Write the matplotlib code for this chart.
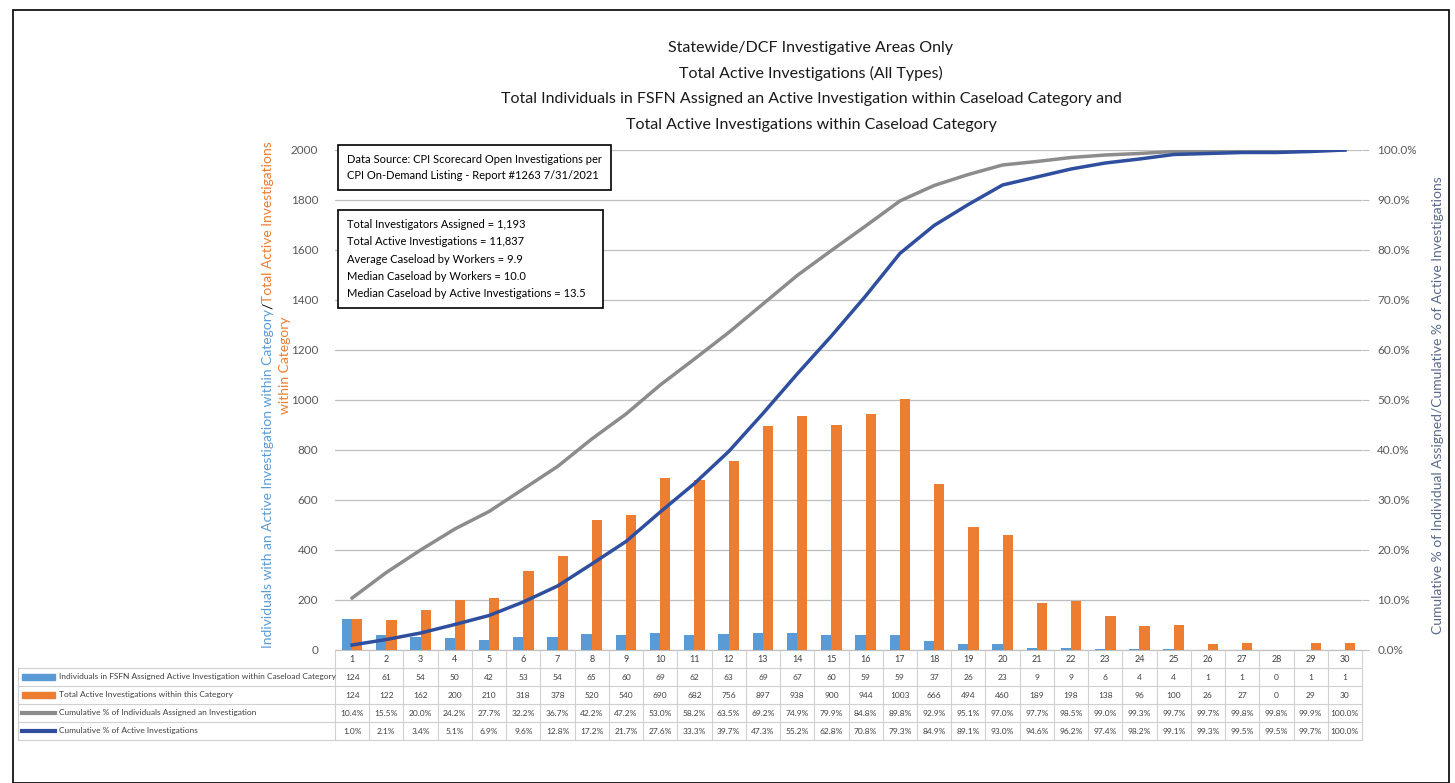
import numpy as np
import matplotlib
matplotlib.use("Agg")
import matplotlib.pyplot as plt
from matplotlib.patches import Rectangle
from matplotlib.lines import Line2D

plt.rcParams['font.family'] = ['Lato', 'DejaVu Sans']

categories = list(range(1, 31))
individuals = [124, 61, 54, 50, 42, 53, 54, 65, 60, 69, 62, 63, 69, 67, 60,
               59, 59, 37, 26, 23, 9, 9, 6, 4, 4, 1, 1, 0, 1, 1]
active = [124, 122, 162, 200, 210, 318, 378, 520, 540, 690, 682, 756, 897, 938, 900,
          944, 1003, 666, 494, 460, 189, 198, 138, 96, 100, 26, 27, 0, 29, 30]
cum_individuals = [10.4, 15.5, 20.0, 24.2, 27.7, 32.2, 36.7, 42.2, 47.2, 53.0,
                   58.2, 63.5, 69.2, 74.9, 79.9, 84.8, 89.8, 92.9, 95.1, 97.0,
                   97.7, 98.5, 99.0, 99.3, 99.7, 99.7, 99.8, 99.8, 99.9, 100.0]
cum_active = [1.0, 2.1, 3.4, 5.1, 6.9, 9.6, 12.8, 17.2, 21.7, 27.6,
              33.3, 39.7, 47.3, 55.2, 62.8, 70.8, 79.3, 84.9, 89.1, 93.0,
              94.6, 96.2, 97.4, 98.2, 99.1, 99.3, 99.5, 99.5, 99.7, 100.0]

series_names = ["Individuals in FSFN Assigned Active Investigation within Caseload Category",
                "Total Active Investigations within this Category",
                "Cumulative % of Individuals Assigned an Investigation",
                "Cumulative % of Active Investigations"]
titles = ["Statewide/DCF Investigative Areas Only",
          "Total Active Investigations (All Types)",
          "Total Individuals in FSFN Assigned an Active Investigation within Caseload Category and",
          "Total Active Investigations within Caseload Category"]
source_text = "Data Source: CPI Scorecard Open Investigations per\nCPI On-Demand Listing - Report #1263 7/31/2021"
stats_text = ("Total Investigators Assigned = 1,193\nTotal Active Investigations = 11,837\n"
              "Average Caseload by Workers = 9.9\nMedian Caseload by Workers = 10.0\n"
              "Median Caseload by Active Investigations = 13.5   ")

c_blue = '#5B9BD5'
c_orange = '#ED7D31'
c_gray = '#8C8C8C'
c_navy = '#2F4F9E'
c_tick = '#595959'

W, H = 1455, 783
fig = plt.figure(figsize=(W / 100, H / 100), dpi=100)

def fx(px):
    return px / W

def fy(py):
    return 1 - py / H

# frame around the whole picture
fig.patches.append(Rectangle((fx(13), fy(783)), fx(1449) - fx(13), fy(10) - fy(783),
                             transform=fig.transFigure, fill=False, lw=1.2, ec='black'))

left, right, top, bottom = 335, 1362, 150, 650
ax = fig.add_axes([fx(left), fy(bottom), fx(right) - fx(left), fy(top) - fy(bottom)])
x = np.array(categories)
bw = 0.3
ax.bar(x - bw / 2, individuals, bw, color=c_blue, zorder=3)
ax.bar(x + bw / 2, active, bw, color=c_orange, zorder=3)
ax.set_xlim(0.5, 30.5)
ax.set_ylim(0, 2000)
ax.set_yticks(range(0, 2001, 200))
ax.yaxis.grid(True, color='#BFBFBF', lw=0.9, zorder=0)
ax.set_xticks([])
ax.tick_params(axis='y', length=0, labelsize=8.5, labelcolor=c_tick, pad=12)
for s in ax.spines.values():
    s.set_visible(False)
ax.spines['bottom'].set_visible(True)
ax.spines['bottom'].set_color('#BFBFBF')

ax2 = ax.twinx()
ax2.plot(x, np.array(cum_individuals) / 100, color=c_gray, lw=2.5, zorder=4)
ax2.plot(x, np.array(cum_active) / 100, color=c_navy, lw=2.5, zorder=4)
ax2.set_ylim(0, 1)
ax2.set_yticks(np.arange(0, 1.01, 0.1))
ax2.set_yticklabels([f"{v * 100:.1f}%" for v in np.arange(0, 1.01, 0.1)])
ax2.tick_params(axis='y', length=5, color='#BFBFBF', labelsize=8.5, labelcolor=c_tick, pad=6)
for s in ax2.spines.values():
    s.set_visible(False)

# titles
for i, t in enumerate(titles):
    fig.text(fx(811), fy(48 + i * 25.5), t, ha='center', va='center', fontsize=11.5, color='#1a1a1a')

# text boxes
ax.text(0.012, 0.992, source_text, transform=ax.transAxes, ha='left', va='top', fontsize=8,
        linespacing=1.6, zorder=6,
        bbox=dict(boxstyle='square,pad=0.8', fc='white', ec='black', lw=1.2))
ax.text(0.012, 0.862, stats_text, transform=ax.transAxes, ha='left', va='top', fontsize=8,
        linespacing=1.7, zorder=6,
        bbox=dict(boxstyle='square,pad=0.8', fc='white', ec='black', lw=1.2))

# left axis label (multi-coloured), built bottom-up
fig.canvas.draw()
r = fig.canvas.get_renderer()
xl = fx(268)
t1 = fig.text(xl, fy(648), "Individuals with an Active Investigation within Category",
              rotation=90, ha='center', va='bottom', fontsize=10, color=c_blue)
bb = t1.get_window_extent(r)
t2 = fig.text(xl, bb.y1 / H, "/", rotation=90, ha='center', va='bottom', fontsize=10, color='black')
bb = t2.get_window_extent(r)
fig.text(xl, bb.y1 / H, "Total Active Investigations", rotation=90, ha='center', va='bottom',
         fontsize=10, color=c_orange)
fig.text(fx(285), fy(365), "within Category", rotation=90, ha='center', va='center',
         fontsize=10, color=c_orange)

# right axis label
fig.text(fx(1438), fy(405), "Cumulative % of Individual Assigned/Cumulative % of Active Investigations",
         rotation=90, ha='center', va='center', fontsize=10, color='#5A6A8A')

# data table below the chart
tab = fig.add_axes([fx(left), fy(740), fx(right) - fx(left), fy(650) - fy(740)])
tab.set_xlim(0.5, 30.5)
tab.set_ylim(5, 0)
tab.axis('off')
px_per_unit = (right - left) / 30
lab_left = 0.5 - (left - 18) / px_per_unit
gc = '#D0D0D0'
rows = [individuals, active,
        [f"{v:.1f}%" for v in cum_individuals],
        [f"{v:.1f}%" for v in cum_active]]
for j, c in enumerate(categories):
    tab.text(c, 0.5, str(c), ha='center', va='center', fontsize=6.5, color='#404040')
    for k, row in enumerate(rows):
        tab.text(c, k + 1.5, str(row[j]), ha='center', va='center', fontsize=6, color='#404040')
for xb in np.arange(0.5, 31, 1):
    tab.plot([xb, xb], [0, 5], color=gc, lw=0.8, clip_on=False)
tab.plot([lab_left, lab_left], [1, 5], color=gc, lw=0.8, clip_on=False)
for yb in range(1, 6):
    tab.plot([lab_left, 30.5], [yb, yb], color=gc, lw=0.8, clip_on=False)
sw_left = lab_left + 4 / px_per_unit
sw_right = lab_left + 37 / px_per_unit
for k, (name, col) in enumerate(zip(series_names, [c_blue, c_orange, c_gray, c_navy])):
    if k < 2:
        tab.add_patch(Rectangle((sw_left, k + 1.32), sw_right - sw_left, 0.36, color=col,
                                clip_on=False))
    else:
        tab.add_line(Line2D([sw_left, sw_right], [k + 1.5, k + 1.5], color=col, lw=3,
                            clip_on=False))
    tab.text(sw_right + 4 / px_per_unit, k + 1.5, name, ha='left', va='center', fontsize=6,
             color='#404040', clip_on=False)

fig.savefig("out.png", dpi=100)
